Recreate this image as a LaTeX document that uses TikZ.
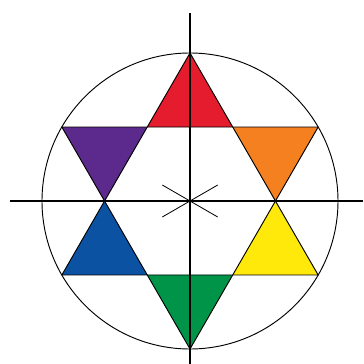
\documentclass[tikz,border=0pt]{standalone}
\usepackage{tikz}
\usetikzlibrary{calc}
\definecolor{hexred}{RGB}{228,28,45}
\definecolor{hexorange}{RGB}{244,128,32}
\definecolor{hexyellow}{RGB}{255,233,10}
\definecolor{hexgreen}{RGB}{0,148,72}
\definecolor{hexblue}{RGB}{12,82,162}
\definecolor{hexpurple}{RGB}{92,42,140}
\tikzset{
  axisline/.style={draw=black,line width=1.2pt},
  ringline/.style={draw=black,line width=0.8pt},
  starline/.style={draw=black,line width=0.8pt,line join=miter},
  crossline/.style={draw=black,line width=0.7pt}
}

\begin{document}
\begin{tikzpicture}[x=0.03cm,y=0.03cm]
  \useasboundingbox (-190,-163) rectangle (173,201);
  % outer star points (on the ring) and inner hexagon
  \coordinate (o) at (0,0);
  \coordinate (t) at (90:148);
  \coordinate (tr) at (30:148);
  \coordinate (br) at (-30:148);
  \coordinate (b) at (-90:148);
  \coordinate (bl) at (-150:148);
  \coordinate (tl) at (150:148);
  \coordinate (i0) at (0:85.4);
  \coordinate (i60) at (60:85.4);
  \coordinate (i120) at (120:85.4);
  \coordinate (i180) at (180:85.4);
  \coordinate (i240) at (240:85.4);
  \coordinate (i300) at (300:85.4);
  % coloured tips
  \fill[hexred] (t) -- (i120) -- (i60) -- cycle;
  \fill[hexorange] (tr) -- (i60) -- (i0) -- cycle;
  \fill[hexyellow] (br) -- (i0) -- (i300) -- cycle;
  \fill[hexgreen] (b) -- (i300) -- (i240) -- cycle;
  \fill[hexblue] (bl) -- (i240) -- (i180) -- cycle;
  \fill[hexpurple] (tl) -- (i180) -- (i120) -- cycle;
  % star outline and ring
  \draw[starline] (t) -- (br) -- (bl) -- cycle;
  \draw[starline] (b) -- (tr) -- (tl) -- cycle;
  \draw[ringline] (o) circle (148);
  % axes
  \coordinate (ax1) at (-180,0);
  \coordinate (ax2) at (173,0);
  \coordinate (ay1) at (0,188);
  \coordinate (ay2) at (0,-163);
  \draw[axisline] (ax1) -- (ax2);
  \draw[axisline] (ay1) -- (ay2);
  % small cross at the centre
  \draw[crossline] (150:32) -- (-30:32);
  \draw[crossline] (-150:32) -- (30:32);
\end{tikzpicture}
\end{document}
